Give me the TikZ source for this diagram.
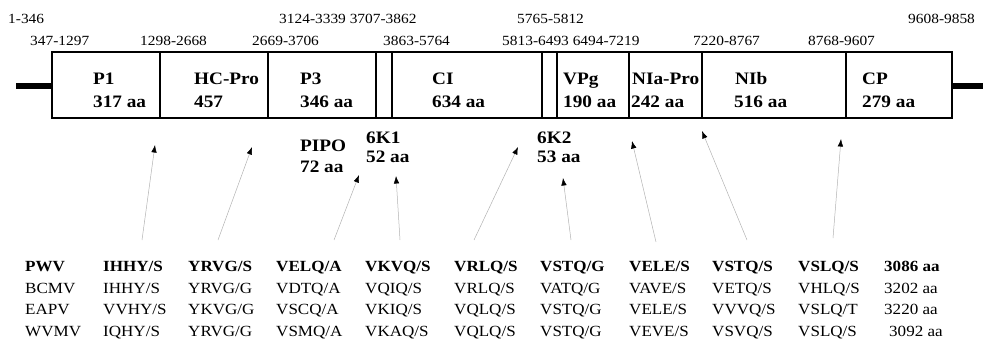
\documentclass[tikz,border=0pt]{standalone}
\usepackage{fontspec}
\setmainfont{Liberation Serif}[FakeStretch=1.1]
\usetikzlibrary{arrows.meta}
\begin{document}
\begin{tikzpicture}[x=1pt,y=-1pt,
  rng/.style={anchor=base west,inner sep=0pt,font=\fontsize{14}{15}\selectfont},
  prot/.style={anchor=base west,inner sep=0pt,font=\fontsize{17.5}{18}\selectfont\bfseries},
  tab/.style={anchor=base west,inner sep=0pt,font=\fontsize{15.5}{16}\selectfont},
  tabb/.style={tab,font=\fontsize{15.5}{16}\selectfont\bfseries},
  seg/.style={line width=1.2pt},
  tail/.style={line width=5.5pt},
  cut/.style={draw=black!30,line width=0.5pt,-{Latex[black,length=7.5pt,width=5.5pt]}}]
\useasboundingbox (0,0) rectangle (985,342);
% polyprotein box
\coordinate (bl) at (52,52);
\coordinate (tr) at (952,118);
\draw[seg] (bl) rectangle (tr);
\foreach \xx in {160,268,376,392,542,557,629,702,846}
  \draw[seg] (\xx,52) -- (\xx,118);
\coordinate (l0) at (16,86); \coordinate (l1) at (52,86);
\coordinate (r0) at (952,86); \coordinate (r1) at (983,86);
\draw[tail] (l0) -- (l1);
\draw[tail] (r0) -- (r1);
% ranges
\node[rng] (t1) at (8,24) {1-346};
\node[rng] (t2) at (30,46) {347-1297};
\node[rng] (t3) at (140,46) {1298-2668};
\node[rng] (t4) at (252,46) {2669-3706};
\node[rng] (t5) at (279,24) {3124-3339 3707-3862};
\node[rng] (t6) at (383,46) {3863-5764};
\node[rng] (t7) at (517,24) {5765-5812};
\node[rng] (t8) at (502,46) {5813-6493 6494-7219};
\node[rng] (t9) at (693,46) {7220-8767};
\node[rng] (t10) at (808,46) {8768-9607};
\node[rng] (t11) at (908,24) {9608-9858};
% protein names
\node[prot] (p1) at (93,85) {P1};
\node[prot] (p1a) at (93,108) {317 aa};
\node[prot] (hc) at (194,85) {HC-Pro};
\node[prot] (hca) at (194,108) {457};
\node[prot] (p3) at (300,85) {P3};
\node[prot] (p3a) at (300,108) {346 aa};
\node[prot] (ci) at (432,85) {CI};
\node[prot] (cia) at (432,108) {634 aa};
\node[prot] (vpg) at (563,85) {VPg};
\node[prot] (vpga) at (563,108) {190 aa};
\node[prot] (nia) at (632,85) {NIa-Pro};
\node[prot] (niaa) at (631,108) {242 aa};
\node[prot] (nib) at (735,85) {NIb};
\node[prot] (niba) at (734,108) {516 aa};
\node[prot] (cp) at (862,85) {CP};
\node[prot] (cpa) at (862,108) {279 aa};
% small proteins
\node[prot] (pipo) at (300,152) {PIPO};
\node[prot] (pipoa) at (300,172) {72 aa};
\node[prot] (k1) at (366,143) {6K1};
\node[prot] (k1a) at (366,163) {52 aa};
\node[prot] (k2) at (537,143) {6K2};
\node[prot] (k2a) at (537,163) {53 aa};
% cleavage arrows
\foreach \i/\sx/\sy/\ex/\ey in {1/142/240/155/145, 2/218/240/252/147, 3/334/240/359/175, 4/400/240/396/176,
  5/474/240/518/147, 6/571/240/563/178, 7/656/242/632/141, 8/747/240/702/131, 9/833/238/841/139}{
  \coordinate (s\i) at (\sx,\sy);
  \coordinate (e\i) at (\ex,\ey);
  \draw[cut] (s\i) -- (e\i);
}
% table
\def\ya{271.5}\def\yb{293}\def\yc{314.5}\def\yd{336}
\node[tabb] (v1) at (25,\ya) {PWV};
\node[tab] (v2) at (25,\yb) {BCMV};
\node[tab] (v3) at (25,\yc) {EAPV};
\node[tab] (v4) at (25,\yd) {WVMV};
\node[tabb] (a1) at (103,\ya) {IHHY/S};
\node[tab] (a2) at (103,\yb) {IHHY/S};
\node[tab] (a3) at (103,\yc) {VVHY/S};
\node[tab] (a4) at (103,\yd) {IQHY/S};
\node[tabb] (b1) at (188,\ya) {YRVG/S};
\node[tab] (b2) at (188,\yb) {YRVG/G};
\node[tab] (b3) at (188,\yc) {YKVG/G};
\node[tab] (b4) at (188,\yd) {YRVG/G};
\node[tabb] (c1) at (276,\ya) {VELQ/A};
\node[tab] (c2) at (276,\yb) {VDTQ/A};
\node[tab] (c3) at (276,\yc) {VSCQ/A};
\node[tab] (c4) at (276,\yd) {VSMQ/A};
\node[tabb] (d1) at (365,\ya) {VKVQ/S};
\node[tab] (d2) at (365,\yb) {VQIQ/S};
\node[tab] (d3) at (365,\yc) {VKIQ/S};
\node[tab] (d4) at (365,\yd) {VKAQ/S};
\node[tabb] (e1) at (454,\ya) {VRLQ/S};
\node[tab] (e2) at (454,\yb) {VRLQ/S};
\node[tab] (e3) at (454,\yc) {VQLQ/S};
\node[tab] (e4) at (454,\yd) {VQLQ/S};
\node[tabb] (f1) at (540,\ya) {VSTQ/G};
\node[tab] (f2) at (540,\yb) {VATQ/G};
\node[tab] (f3) at (540,\yc) {VSTQ/G};
\node[tab] (f4) at (540,\yd) {VSTQ/G};
\node[tabb] (g1) at (629,\ya) {VELE/S};
\node[tab] (g2) at (629,\yb) {VAVE/S};
\node[tab] (g3) at (629,\yc) {VELE/S};
\node[tab] (g4) at (629,\yd) {VEVE/S};
\node[tabb] (h1) at (712,\ya) {VSTQ/S};
\node[tab] (h2) at (712,\yb) {VETQ/S};
\node[tab] (h3) at (712,\yc) {VVVQ/S};
\node[tab] (h4) at (712,\yd) {VSVQ/S};
\node[tabb] (i1) at (798,\ya) {VSLQ/S};
\node[tab] (i2) at (798,\yb) {VHLQ/S};
\node[tab] (i3) at (798,\yc) {VSLQ/T};
\node[tab] (i4) at (798,\yd) {VSLQ/S};
\node[tabb] (j1) at (884,\ya) {3086 aa};
\node[tab] (j2) at (884,\yb) {3202 aa};
\node[tab] (j3) at (884,\yc) {3220 aa};
\node[tab] (j4) at (889,\yd) {3092 aa};
\end{tikzpicture}
\end{document}
